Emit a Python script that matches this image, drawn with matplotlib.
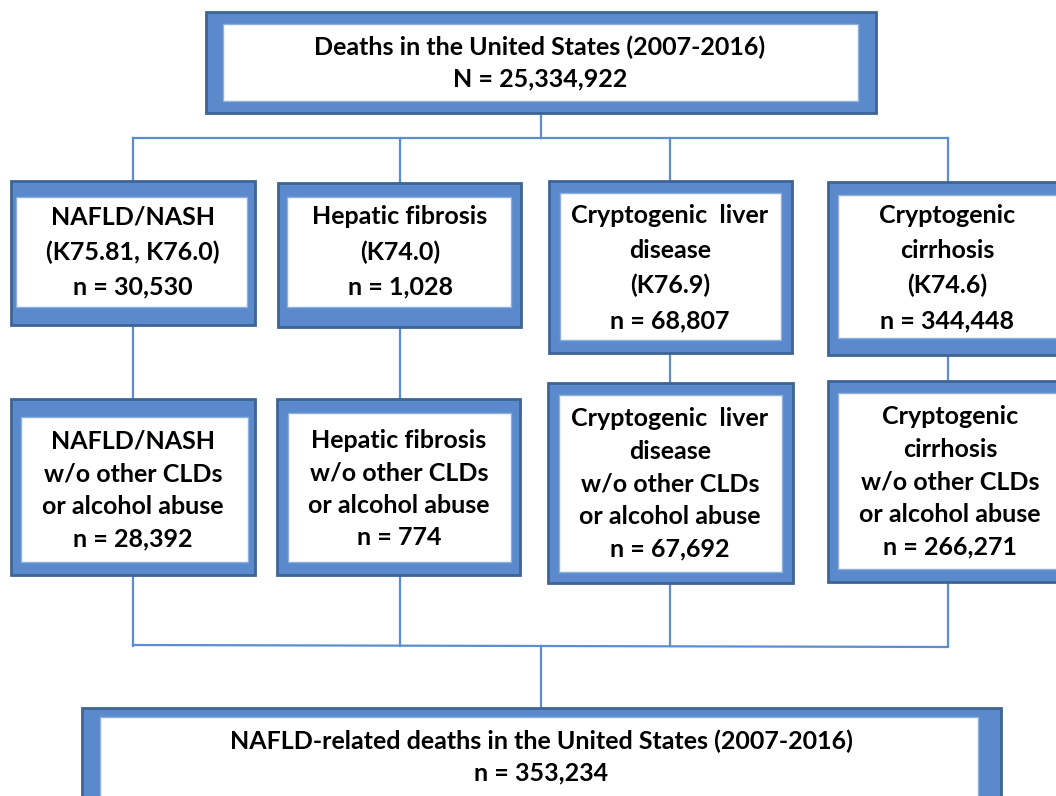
"""Flow chart of NAFLD-related deaths in the United States (2007-2016)."""

import matplotlib
matplotlib.use('Agg')
import matplotlib.pyplot as plt
from matplotlib.patches import Rectangle

# box texts and counts
top_label = 'Deaths in the United States (2007-2016)'
top_count = 'N = 25,334,922'
row1_labels = [['NAFLD/NASH', '(K75.81, K76.0)'],
               ['Hepatic fibrosis', '(K74.0)'],
               ['Cryptogenic  liver', 'disease', '(K76.9)'],
               ['Cryptogenic', 'cirrhosis', '(K74.6)']]
row1_counts = ['30,530', '1,028', '68,807', '344,448']
row2_labels = [['NAFLD/NASH', 'w/o other CLDs', 'or alcohol abuse'],
               ['Hepatic fibrosis', 'w/o other CLDs', 'or alcohol abuse'],
               ['Cryptogenic  liver', 'disease', 'w/o other CLDs', 'or alcohol abuse'],
               ['Cryptogenic', 'cirrhosis', 'w/o other CLDs', 'or alcohol abuse']]
row2_counts = ['28,392', '774', '67,692', '266,271']
bottom_label = 'NAFLD-related deaths in the United States (2007-2016)'
bottom_count = 'n = 353,234'

# layout in pixels: outer box (x0, y0, x1, y1), inner white box
top_box = ((206, 12, 876, 113), (223, 24, 858, 101))
row1_boxes = [((11, 181, 255, 325), (16, 197, 247, 307)),
              ((278, 183, 521, 327), (287, 197, 511, 307)),
              ((549, 181, 792, 353), (560, 193, 781, 340)),
              ((828, 182, 1070, 355), (838, 195, 1070, 338))]
row2_boxes = [((11, 399, 255, 575), (21, 417, 248, 562)),
              ((277, 399, 520, 575), (288, 413, 511, 562)),
              ((548, 383, 793, 583), (559, 395, 782, 572)),
              ((828, 381, 1070, 582), (838, 393, 1070, 569))]
bottom_box = ((82, 708, 1001, 830), (100, 717, 978, 830))
columns = [133, 400, 670, 948]

FILL = '#5A8ACB'
EDGE = '#3E6496'
LINE = '#5B8DD0'
FONT = 'Lato'
SIZE = 18


def draw_box(ax, box):
  (x0, y0, x1, y1), (ix0, iy0, ix1, iy1) = box
  ax.add_patch(Rectangle((x0, y0), x1 - x0, y1 - y0, facecolor=FILL,
                         edgecolor=EDGE, lw=2, zorder=2))
  ax.add_patch(Rectangle((ix0, iy0), ix1 - ix0, iy1 - iy0, facecolor='white',
                         edgecolor='#8FB0DC', lw=1, zorder=3))


def put_lines(ax, cx, cy, lines, spacing):
  n = len(lines)
  for i, s in enumerate(lines):
    y = cy + (i - (n - 1) / 2) * spacing
    ax.text(cx, y, s, ha='center', va='center', fontsize=SIZE,
            fontfamily=FONT, fontweight='bold', color='black', zorder=4)


fig = plt.figure(figsize=(10.56, 7.96), dpi=100)
ax = fig.add_axes([0, 0, 1, 1])
ax.set_xlim(0, 1056)
ax.set_ylim(796, 0)
ax.axis('off')

# connectors
lw = 1.6
ax.plot([541, 541], [113, 138], color=LINE, lw=lw, zorder=1)
ax.plot([columns[0], columns[-1]], [138, 138], color=LINE, lw=lw, zorder=1)
for c in columns:
  ax.plot([c, c], [138, 200], color=LINE, lw=lw, zorder=1)
  ax.plot([c, c], [300, 420], color=LINE, lw=lw, zorder=1)
  ax.plot([c, c], [560, 646], color=LINE, lw=lw, zorder=1)
ax.plot([columns[0], columns[-1]], [645, 647], color=LINE, lw=lw, zorder=1)
ax.plot([541, 541], [646, 720], color=LINE, lw=lw, zorder=1)

# top box
draw_box(ax, top_box)
put_lines(ax, 540, 63, [top_label, top_count], 32)

# row 1
row1_x = [133, 400, 670, 947]
row1_y = [252, 252, 268, 268]
for box, lab, cnt, cx, cy in zip(row1_boxes, row1_labels, row1_counts, row1_x, row1_y):
  draw_box(ax, box)
  put_lines(ax, cx, cy, lab + ['n = ' + cnt], 35)

# row 2
row2_x = [133, 399, 670, 950]
row2_y = [490, 489, 484, 482]
for box, lab, cnt, cx, cy in zip(row2_boxes, row2_labels, row2_counts, row2_x, row2_y):
  draw_box(ax, box)
  put_lines(ax, cx, cy, lab + ['n = ' + cnt], 32.5)

# bottom box
draw_box(ax, bottom_box)
put_lines(ax, 541, 757, [bottom_label, bottom_count], 32)

fig.savefig('out.png', dpi=100)
